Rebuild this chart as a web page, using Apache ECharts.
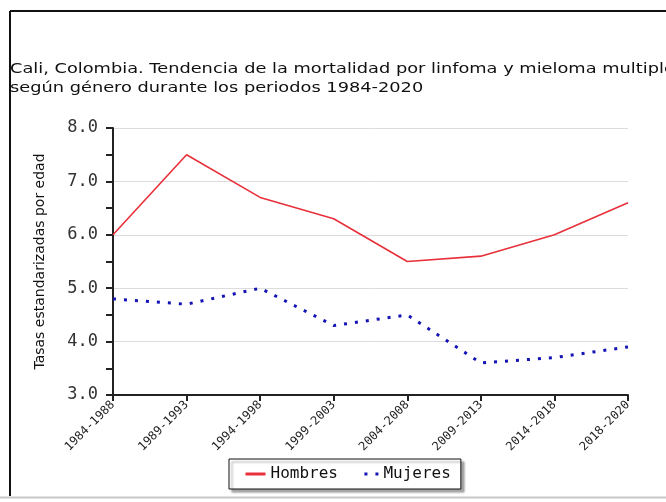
<!DOCTYPE html>
<html>
<head>
<meta charset="utf-8">
<script src="https://cdn.jsdelivr.net/npm/echarts@6/dist/echarts.min.js"></script>
<style>
  html, body { margin: 0; padding: 0; background: #fff; }
  #chart { width: 666px; height: 502px; }
</style>
</head>
<body>
<div id="chart"></div>
<script>
  var periodos = ["1984-1988", "1989-1993", "1994-1998", "1999-2003", "2004-2008", "2009-2013", "2014-2018", "2018-2020"];
  var hombres = [6.0, 7.5, 6.7, 6.3, 5.5, 5.6, 6.0, 6.6];
  var mujeres = [4.8, 4.7, 5.0, 4.3, 4.5, 3.6, 3.7, 3.9];
  var yTicks = [3, 4, 5, 6, 7, 8];
  var titulo = "Cali, Colombia. Tendencia de la mortalidad por linfoma y mieloma multiple\nsegún género durante los periodos 1984-2020";

  var chartDom = echarts.init(document.getElementById("chart"));
  var redColor = "#e8303a", blueColor = "#1414b4";

  var option = {
    animation: false,
    backgroundColor: "#fff",
    graphic: [
      { type: "line", shape: { x1: 10, y1: 11, x2: 666, y2: 11 }, style: { stroke: "#111", lineWidth: 2 } },
      { type: "line", shape: { x1: 10, y1: 11, x2: 10, y2: 496 }, style: { stroke: "#111", lineWidth: 2 } },
      { type: "line", shape: { x1: 0, y1: 497.5, x2: 666, y2: 497.5 }, style: { stroke: "#c8c8c8", lineWidth: 2 } },
      {
        // titulo estirado en horizontal como en la imagen original
        type: "text",
        x: 10,
        y: 60,
        scaleX: 1.27,
        style: {
          text: titulo,
          font: "14px 'DejaVu Sans'",
          fill: "#111",
          lineHeight: 19,
          verticalAlign: "top"
        }
      }
    ],
    legend: {
      left: 229,
      top: 459,
      orient: "horizontal",
      itemGap: 19,
      itemWidth: 20,
      itemHeight: 8,
      padding: [7, 10, 7, 15],
      backgroundColor: "#fff",
      borderColor: "#111",
      borderWidth: 1,
      borderRadius: 0,
      shadowColor: "rgba(0,0,0,0.35)",
      shadowOffsetX: 3,
      shadowOffsetY: 3,
      shadowBlur: 2,
      itemStyle: { opacity: 0 },
      lineStyle: { width: 3 },
      textStyle: { fontFamily: "DejaVu Sans Mono", fontSize: 16, color: "#111" },
      data: [
        { name: "Hombres" },
        { name: "Mujeres", lineStyle: { width: 3, type: [3, 8], dashOffset: -6 } }
      ]
    },
    grid: { left: 113, right: 38, top: 128, bottom: 107 },
    xAxis: {
      type: "category",
      boundaryGap: false,
      data: periodos,
      axisLine: { lineStyle: { color: "#222", width: 2 } },
      axisTick: { show: true, length: 6, inside: false, lineStyle: { color: "#222", width: 2 } },
      axisLabel: {
        interval: 0,
        rotate: 45,
        margin: 8,
        fontFamily: "DejaVu Sans Mono",
        fontSize: 12,
        color: "#222"
      },
      splitLine: { show: false }
    },
    yAxis: {
      type: "value",
      min: yTicks[0],
      max: yTicks[yTicks.length - 1],
      interval: 1,
      name: "Tasas estandarizadas por edad",
      nameLocation: "middle",
      nameGap: 66,
      nameTextStyle: { fontFamily: "DejaVu Sans", fontSize: 14, color: "#111" },
      axisLine: { show: true, lineStyle: { color: "#222", width: 2 } },
      axisTick: { show: true, length: 7, lineStyle: { color: "#222", width: 2 } },
      minorTick: { show: true, splitNumber: 2, length: 7, lineStyle: { color: "#222", width: 2 } },
      axisLabel: {
        margin: 15,
        fontFamily: "DejaVu Sans Mono",
        fontSize: 17,
        color: "#333",
        formatter: function (v) { return v.toFixed(1); }
      },
      splitLine: { show: true, lineStyle: { color: "#dcdcdc", width: 1 } }
    },
    series: [
      {
        name: "Hombres",
        type: "line",
        data: hombres,
        symbol: "none",
        itemStyle: { color: redColor },
        lineStyle: { color: redColor, width: 1.6 }
      },
      {
        name: "Mujeres",
        type: "line",
        data: mujeres,
        symbol: "none",
        itemStyle: { color: blueColor },
        lineStyle: { color: blueColor, width: 3, type: [3, 8] }
      }
    ]
  };

  chartDom.setOption(option);
</script>
</body>
</html>
